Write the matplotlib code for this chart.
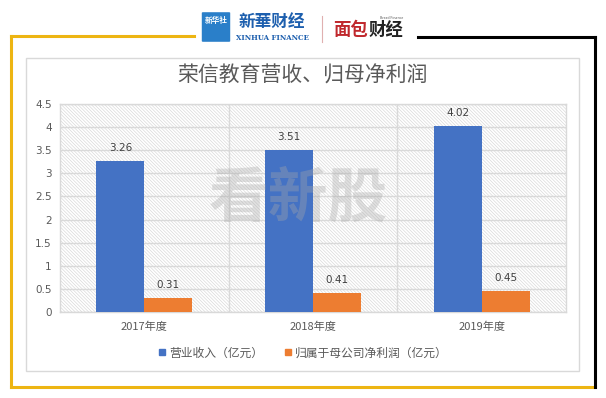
import numpy as np
import matplotlib.pyplot as plt
from matplotlib.patches import Rectangle, FancyBboxPatch
from matplotlib.lines import Line2D

plt.rcParams['font.family'] = ['Noto Sans CJK SC', 'DejaVu Sans']
plt.rcParams['hatch.color'] = '#d9d9d9'
plt.rcParams['hatch.linewidth'] = 0.5

# data
years = ['2017年度', '2018年度', '2019年度']
revenue = [3.26, 3.51, 4.02]
net_profit = [0.31, 0.41, 0.45]
yticks = [0, 0.5, 1, 1.5, 2, 2.5, 3, 3.5, 4, 4.5]
title = '荣信教育营收、归母净利润'
labels = ['营业收入（亿元）', '归属于母公司净利润（亿元）']

W, H = 606, 398
fig = plt.figure(figsize=(W / 100, H / 100), dpi=100)


def fx(x):
    return x / W


def fy(y):
    return 1 - y / H


# frame lines (yellow left/top/bottom, black right/top)
yellow = '#EDB512'
fig.add_artist(Line2D([fx(11), fx(11)], [fy(36), fy(387)], color=yellow, lw=2.2))
fig.add_artist(Line2D([fx(11), fx(194)], [fy(36), fy(36)], color=yellow, lw=2.2))
fig.add_artist(Line2D([fx(11), fx(595)], [fy(387), fy(387)], color=yellow, lw=2.2))
fig.add_artist(Line2D([fx(418), fx(595)], [fy(37), fy(37)], color='black', lw=2.2))
fig.add_artist(Line2D([fx(595), fx(595)], [fy(37), fy(387)], color='black', lw=2.2))
# inner gray box
fig.add_artist(Rectangle((fx(26), fy(371)), fx(579 - 26), (371 - 58) / H,
                         fill=False, ec='#d9d9d9', lw=1))

# header logos
fig.add_artist(FancyBboxPatch((fx(203), fy(41)), fx(26), 28 / H,
                              boxstyle='round,pad=0.002', fc='#2a7fc9', ec='none'))
fig.text(fx(216), fy(21), '新华社', color='white', fontsize=5.5, ha='center', va='center',
         fontweight='bold')
fig.text(fx(272), fy(22), '新華财经', color='#1d5fae', fontsize=12, ha='center', va='center',
         fontweight='bold', style='italic')
fig.text(fx(272), fy(38), 'XINHUA FINANCE', color='#1d5fae', fontsize=5, ha='center',
         va='center', family='DejaVu Serif', fontweight='bold')
fig.add_artist(Line2D([fx(322), fx(322)], [fy(16), fy(42)], color='#e0b0b0', lw=0.8))
fig.text(fx(350), fy(30), '面包', color='#c0282d', fontsize=12.5, ha='center', va='center',
         fontweight='black')
fig.text(fx(386), fy(30), '财经', color='#222222', fontsize=12.5, ha='center', va='center',
         fontweight='black')
fig.text(fx(392), fy(18), 'Bread Finance', color='#555555', fontsize=2.5, ha='center',
         va='center')

# title
fig.text(fx(303), fy(76), title, color='#595959', fontsize=15, ha='center', va='center')

# axes
ax = fig.add_axes([fx(60), fy(312), fx(566 - 60), (312 - 104) / H])
ax.patch.set_facecolor('white')
ax.patch.set_hatch('\\' * 10)
ax.patch.set_edgecolor('#d9d9d9')

x = np.arange(len(years))
bw = 0.285
b1 = ax.bar(x - bw / 2, revenue, bw, color='#4472C4', zorder=3)
b2 = ax.bar(x + bw / 2, net_profit, bw, color='#ED7D31', zorder=3)
for rect, v in zip(b1, revenue):
    ax.text(rect.get_x() + rect.get_width() / 2, v + 0.17, f'{v:.2f}', ha='center',
            va='bottom', fontsize=7.5, color='#404040', family='DejaVu Sans')
for rect, v in zip(b2, net_profit):
    ax.text(rect.get_x() + rect.get_width() / 2, v + 0.17, f'{v:.2f}', ha='center',
            va='bottom', fontsize=7.5, color='#404040', family='DejaVu Sans')

ax.set_xlim(-0.5, len(years) - 0.5)
ax.set_ylim(0, 4.5)
ax.set_yticks(yticks)
ax.set_yticklabels([f'{t:g}' for t in yticks], fontsize=7.5, color='#595959',
                   family='DejaVu Sans')
ax.set_xticks(x)
ax.set_xticklabels(years, fontsize=8, color='#595959')
ax.tick_params(length=0, pad=6)
ax.tick_params(axis='x', pad=7)
for y in yticks:
    ax.axhline(y, color='#d9d9d9', lw=1, zorder=1)
for xv in [0.5, 1.5]:
    ax.axvline(xv, color='#d9d9d9', lw=1, zorder=1)
for s in ax.spines.values():
    s.set_color('#d9d9d9')
    s.set_linewidth(1)

# watermark
fig.text(fx(298), fy(200), '看新股', fontsize=43, fontweight='black',
         color='#a8a8a8', alpha=0.35, ha='center', va='center', zorder=10)

# legend
handles = [Line2D([], [], marker='s', ls='none', color='#4472C4', markersize=5),
           Line2D([], [], marker='s', ls='none', color='#ED7D31', markersize=5)]
fig.legend(handles, labels, loc='center', bbox_to_anchor=(fx(302), fy(353)), ncol=2,
           frameon=False, fontsize=8.5, labelcolor='#595959', handletextpad=0.1,
           columnspacing=1.6, handlelength=1)

fig.savefig('out.png', dpi=100)
